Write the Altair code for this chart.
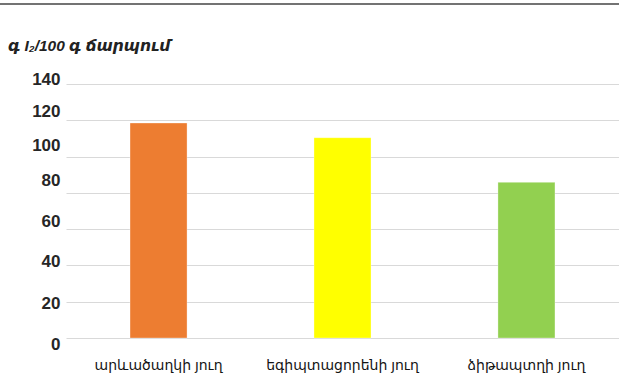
import altair as alt
import pandas as pd

oils = ["արևածաղկի յուղ", "եգիպտացորենի յուղ", "ձիթապտղի յուղ"]
iodine = [118.5, 110.4, 85.8]
colors = ["#ED7D31", "#FFFF00", "#92D050"]
y_ticks = [0, 20, 40, 60, 80, 100, 120, 140]
label_shift = {140: -5, 120: -9, 100: -11.5, 80: -12.5, 60: -7.5, 40: -4, 20: 1.5, 0: 6}
title_text = "գ I₂/100 գ ճարպում"

df = pd.DataFrame({"oil": oils, "value": iodine, "color": colors})

W, H = 553, 254
FONT = "Liberation Sans, Arial, DejaVu Sans"

offset_cond = {
    "condition": [{"test": f"datum.value == {k}", "value": v} for k, v in label_shift.items()],
    "value": 0,
}

bars = alt.Chart(df).mark_bar(stroke="#ffffff", strokeOpacity=0.4, strokeWidth=0.8).encode(
    x=alt.X("oil:N", sort=oils, title=None,
            scale=alt.Scale(paddingInner=0.69, paddingOuter=0.348),
            axis=alt.Axis(labelAngle=0, labelFontSize=14, labelColor="#141414",
                          labelFont=FONT, labelPadding=20, ticks=False, domain=False,
                          grid=False)),
    y=alt.Y("value:Q", title=None,
            scale=alt.Scale(domain=[0, 140], nice=False, zero=True),
            axis=alt.Axis(values=y_ticks, labelFontSize=17, labelFontWeight="bold",
                          labelColor="#262626", labelFont=FONT, labelPadding=6,
                          ticks=False, domain=False, grid=True, gridColor="#d9d9d9",
                          gridWidth=1.2, labelOffset=offset_cond)),
    color=alt.Color("color:N", scale=None, legend=None),
)

title_df = pd.DataFrame({"t": [title_text]})
title = alt.Chart(title_df).mark_text(
    align="left", baseline="middle", fontSize=15.5, fontWeight="bold",
    fontStyle="italic", font=FONT, color="#222222"
).encode(text="t:N", x=alt.value(-58), y=alt.value(-38))

top_rule = alt.Chart(title_df).mark_rule(color="#444444", strokeWidth=1.5).encode(
    x=alt.value(-66), x2=alt.value(W), y=alt.value(-80)
)

chart = alt.layer(top_rule, bars, title).properties(
    width=W, height=H,
    autosize=alt.AutoSizeParams(type="none"),
    padding={"left": 66, "top": 84, "right": 0, "bottom": 42},
).configure_view(stroke=None)

chart.save("out.html", embed_options={"renderer": "svg", "actions": False})
